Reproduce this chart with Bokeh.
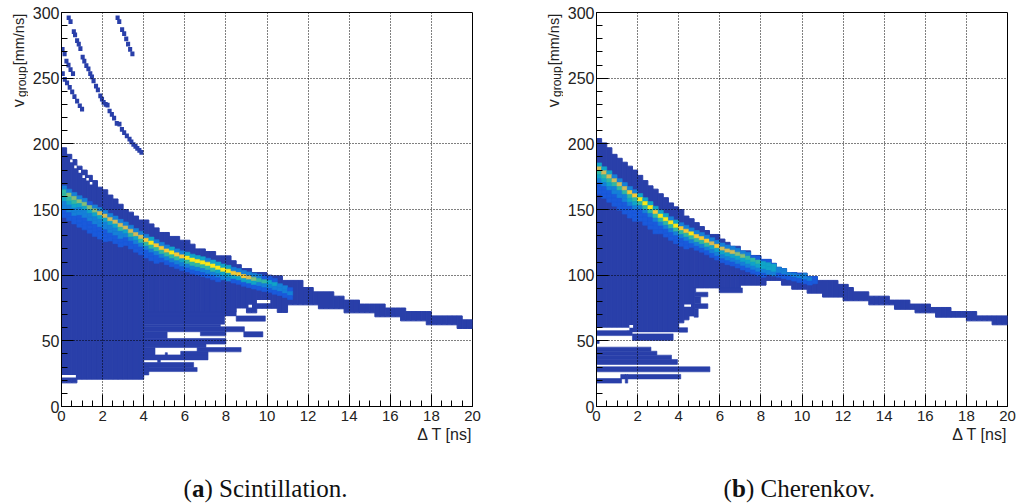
from bokeh.embed import file_html
from bokeh.resources import INLINE
from bokeh.layouts import row, column
from bokeh.models import Label, Range1d, FixedTicker, Title
from bokeh.plotting import figure
import math

# ---------- shared tick values ----------
x_majors = [0, 2, 4, 6, 8, 10, 12, 14, 16, 18, 20]
x_minors = [i * 0.5 for i in range(41) if i % 4]
y_majors = [0, 50, 100, 150, 200, 250, 300]
y_minors = [v for v in range(0, 301, 10) if v % 50]
column_width_ns = 0.25
row_height = 3.0
level_colors = ["#293fa9", "#1a5adb", "#1580d8", "#10a4c8", "#30b7a2",
                "#85be78", "#d0bb58", "#f5c935", "#f9e818"]
grey_low = "#293fa9"

# ---------- panel a: Scintillation ----------
a_top = [197, 192, 188, 183, 180, 176, 172, 167, 165, 161, 158, 154, 150, 148, 145, 142,
         142, 139, 136, 132.5, 132.5, 129.5, 129.5, 126.6, 126.6, 123.6, 120, 120, 118, 118, 114.7, 114.7,
         114.7, 111, 108, 105, 105, 102, 102, 102, 100, 99.5, 99.5, 96, 96, 96, 96, 90.6,
         90.6, 87.3, 87.3, 87.3, 87.3, 84, 84, 81, 81, 81, 78, 78, 78, 78, 78, 75,
         75, 75, 75, 72.3, 72.3, 72.3, 72.3, 72.3, 69, 69, 69, 69, 69, 69, 66, 66]
a_bottom = [18, 18, 18, 20.8, 20.8, 20.8, 20.8, 20.8, 20.8, 20.8, 20.8, 20.8, 20.8, 20.8, 20.8, 20.8,
            72, 72, 72, 72, 72, 72, 72, 72, 72, 72, 72, 72, 72, 72, 72, 72,
            72, 72, 75, 75, 71.3, 71.3, 74.8, 74.8, 74.8, 74.8, 71.6, 71.6, 77.4, 77.4, 77.4, 77.4,
            77.4, 77.4, 74.4, 74.4, 74.4, 74.4, 74.4, 71.3, 71.3, 71.3, 71.3, 71.3, 71.3, 68.3, 68.3, 68.3,
            68.3, 68.3, 65.2, 65.2, 65.2, 65.2, 65.2, 62.2, 62.2, 62.2, 62.2, 62.2, 62.2, 59.4, 59.4, 59.4]
a_isl_x0 = [4, 4, 4, 4.68, 4, 4, 5.8, 5.05, 6.6, 4, 4, 4, 6.76, 8.87, 4, 4, 4, 8.5, 4, 4]
a_isl_x1 = [4.25, 6.6, 6.43, 4.81, 7.13, 4.55, 7.13, 5.15, 8.74, 7.03, 8, 5.14, 8, 9.8, 8.9, 7.73, 7.94, 9.92, 8.5, 4.25]
a_isl_v0 = [24, 26.6, 29.7, 33.5, 35.5, 39.3, 39.3, 39.3, 41.6, 44.9, 47.5, 51.8, 53.8, 53, 56.9, 60.7, 62.7, 65, 69, 26.6]
a_isl_v1 = [26.6, 29.7, 33.5, 35.5, 39.3, 44.9, 42, 41, 44.9, 47.5, 51.8, 56.9, 56.9, 56.9, 60.7, 62.7, 69, 69, 72, 29.7]
a_hole_x0 = [0, 9.51, 9.1, 0.42, 0.62, 0.83, 1.02, 1.21, 1.38]
a_hole_x1 = [0.7, 10.16, 9.27, 0.54, 0.74, 0.95, 1.14, 1.33, 1.5]
a_hole_v0 = [22, 78.7, 75.4, 186, 181.5, 178, 174, 172, 169]
a_hole_v1 = [24, 81, 77.4, 188, 183.5, 180, 176, 174, 171]
a_strip_x = [2.73, 2.81, 2.95, 3.05, 3.15, 3.24, 3.34, 3.45,
             0.35, 0.44, 0.6, 0.66, 0.76, 0.84, 0.92, 1.03, 1.11, 1.21, 1.31, 1.4, 1.48, 1.56, 1.68, 1.77, 1.89,
             1.97, 2.05, 2.15, 2.24, 2.34, 2.45, 2.56, 2.69, 2.82, 2.94, 3.05, 3.18, 3.31, 3.4, 3.5, 3.6, 3.69, 3.79, 3.89,
             0.05, 0.15, 0.24, 0.34, 0.44, 0.56,
             0.06, 0.16, 0.27, 0.4, 0.52, 0.63, 0.76, 0.89, 1.0]
a_strip_v = [296, 293, 287, 284, 280, 276, 272, 268.5,
             296, 293, 285.5, 283, 278.5, 276, 272.5, 266, 263, 259.5, 257, 253.5, 251, 248, 244, 241, 236.5,
             234, 231.5, 230, 229.5, 225, 222.5, 219.5, 215.5, 215, 211, 208.5, 206, 203.5, 201.5, 199.5, 198, 196.5, 195, 193.5,
             272, 268.5, 263, 260, 256.5, 253.5,
             253.5, 249, 246.5, 243, 239.5, 236, 232.5, 229, 226.5]
a_ridge = [163.5, 161, 158.5, 156, 154, 151.5, 149, 147, 145, 142.5, 140.5, 138, 136, 133.5, 131, 129,
           126.6, 124.5, 122.5, 120.5, 118.5, 117, 115.5, 114, 113, 111.5, 110.5, 109.5, 108.4, 107, 105.5, 104,
           103, 101.5, 100.5, 99, 98, 97, 96, 95, 94.4, 93, 92, 90.5, 89]
a_levels = ["024432211", "025432211", "025432211", "025322111", "025322111", "015322111",
            "025322111", "026322111", "026322111", "02632211", "02632211", "02642211",
            "0263211", "0264211", "0263211", "0264211", "0274211", "0384211", "0274211",
            "027421", "027421", "038421", "027421", "027321", "038421", "038421", "038421",
            "038421", "028421", "038421", "038321", "03832", "03832", "02731", "02731",
            "02731", "02631", "02531", "02421", "01421", "01321", "01321", "00221",
            "00221", "00121"]

# ---------- panel b: Cherenkov ----------
b_top = [204, 200.7, 197, 192, 189, 186, 183, 180, 176, 172, 168, 165.5, 162, 159, 155, 152,
         150, 145, 143, 140, 137, 134, 131, 131, 127.5, 125, 122, 122, 118.5, 118.5, 115, 115,
         112, 112, 109, 106, 105, 102, 102, 101.5, 101.5, 99, 99, 96, 96, 96, 96, 93,
         93, 90.6, 87.3, 87.3, 87.3, 84, 84, 84, 84, 81, 81, 81, 81, 78, 78, 78,
         78, 75.4, 75.4, 75.4, 75.4, 72.3, 72.3, 72.3, 72.3, 72.3, 69, 69, 69, 69, 69, 69]
b_bottom = [60, 60, 60, 60, 60, 60, 56.6, 56.6, 56.6, 56.6, 56.6, 56.6, 56.6, 56.6, 56.6, 56.6,
            63.7, 66, 69, 90.3, 90.3, 90.3, 90.3, 90.3, 90.3, 90.3, 90.3, 90.3, 92.4, 92.4, 92.4, 92.4,
            92.4, 96, 96, 96, 92.4, 92.4, 89.3, 89.3, 89.3, 86.3, 86.3, 86.3, 83.3, 83.3, 83.3, 83.3,
            80.5, 80.5, 80.5, 80.5, 80.5, 77.4, 77.4, 77.4, 77.4, 77.4, 74, 74, 74, 74, 71.3, 71.3,
            71.3, 71.3, 68, 68, 68, 68, 68, 68, 65.2, 65.2, 65.2, 65.2, 65.2, 62.2, 62.2, 62.2]
b_isl_x0 = [4, 4.75, 4.75, 4.75, 4.75, 4.75, 5.97, 1.75, 0, 0, 0, 0, 0, 0, 0, 1.5, 1.18, 1.4, 0]
b_isl_x1 = [4.43, 4.95, 5.42, 5.07, 5.42, 4.83, 7.1, 3.73, 1.75, 0.13, 2.65, 2.94, 3.65, 3.94, 5.52, 4.1, 1.43, 1.52, 1.22]
b_isl_v0 = [56.6, 68, 74.6, 78.2, 83.5, 87, 86.6, 50.3, 54, 48, 42.1, 39.1, 35.8, 32, 26.4, 21, 21, 17.8, 17.8]
b_isl_v1 = [60, 74.6, 78.2, 83.5, 87, 90.3, 90.3, 55.5, 58, 50.3, 45.2, 42.1, 39.1, 35.8, 30.2, 24.4, 24.4, 24.4, 21.3]
b_hole_x0 = [4.27, 0, 1.6, 1.75]
b_hole_x1 = [4.6, 1.6, 1.78, 4.0]
b_hole_v0 = [75.9, 58, 60, 55.5]
b_hole_v1 = [77.7, 60, 62, 56.6]
b_ridge = [181, 178, 175, 172, 169, 166, 163, 160.5, 157.6, 154.5, 151.5, 148, 145, 142.5, 140, 137.5,
           135.5, 133.5, 131.5, 129.5, 128, 126, 124, 122, 120, 118.5, 117.5, 116, 114.5, 113, 111.5, 110,
           109, 108, 107, 106, 105, 104, 103, 102, 101, 100, 98]
b_levels = ["036432111", "036432111", "036432111", "026422111", "026422111", "026422111",
            "027432111", "027432111", "03842111", "03842111", "03842111", "03742111",
            "0384211", "0384211", "0284211", "0384211", "0274211", "0274211", "028421",
            "027421", "027421", "027421", "026321", "027321", "026321", "026321", "026321",
            "025321", "025321", "024321", "014321", "014321", "013321", "01332", "01332", "01221",
            "01221", "01221", "01121", "01121", "01221", "01121", "00110"]


def panel(width, border_right, top, bottom, isl, holes, ridge, levels, strip):
    p = figure(width=width, height=451, output_backend="svg", toolbar_location=None,
               x_range=Range1d(0, 20), y_range=Range1d(0, 300),
               min_border_left=33, min_border_right=border_right,
               min_border_top=12, min_border_bottom=45, frame_width=411, frame_height=394,
               outline_line_color="black", outline_line_width=1, background_fill_color="white")
    left = [i * column_width_ns for i in range(len(top))]
    right = [v + column_width_ns for v in left]
    p.quad(left=left, right=right, top=top, bottom=bottom, fill_color=grey_low,
           line_color=grey_low, line_width=1)
    p.quad(left=isl[0], right=isl[1], bottom=isl[2], top=isl[3], fill_color=grey_low,
           line_color=grey_low, line_width=0.6)
    p.quad(left=holes[0], right=holes[1], bottom=holes[2], top=holes[3], fill_color="white", line_color=None)
    if strip:
        p.rect(x=strip[0], y=strip[1], width=0.2, height=3.6, fill_color=grey_low, line_color=None)
    cl, cr, ct, cb, cc = [], [], [], [], []
    for i, (centre, digits) in enumerate(zip(ridge, levels)):
        for j, d in enumerate(digits):
            upper = centre + (2.5 - j) * row_height
            lower = upper - row_height
            if d == "0" or lower >= top[i]:
                continue
            cl.append(i * column_width_ns)
            cr.append((i + 1) * column_width_ns)
            ct.append(min(upper, top[i]))
            cb.append(lower)
            cc.append(level_colors[int(d)])
    p.quad(left=cl, right=cr, top=ct, bottom=cb, fill_color=cc, line_color=cc, line_width=0.6)

    for ax, majors, minors in ((p.xaxis[0], x_majors, x_minors), (p.yaxis[0], y_majors, y_minors)):
        ax.ticker = FixedTicker(ticks=majors, minor_ticks=minors)
        ax.major_tick_in = 12
        ax.major_tick_out = 0
        ax.minor_tick_in = 6
        ax.minor_tick_out = 0
        ax.major_tick_line_color = "black"
        ax.minor_tick_line_color = "black"
        ax.axis_line_color = "black"
        ax.major_label_text_font = "Liberation Sans"
        ax.major_label_text_color = "#222222"
    xa = p.xaxis[0]
    xa.major_label_text_font_size = "15px"
    p.yaxis[0].major_label_text_font_size = "16px"
    xa.major_label_standoff = 4
    p.yaxis[0].major_label_standoff = 2
    p.add_layout(Title(text="\u0394 T [ns]", align="right", text_font="Liberation Sans",
                       text_font_size="16px", text_font_style="normal", text_color="#222222",
                       standoff=0, offset=0), "below")
    for g in (p.xgrid[0], p.ygrid[0]):
        g.grid_line_color = "black"
        g.grid_line_dash = "1 2"
        g.grid_line_width = 1
        g.level = "overlay"
    p.xgrid[0].ticker = FixedTicker(ticks=x_majors)
    p.ygrid[0].ticker = FixedTicker(ticks=y_majors)
    return p


def y_title():
    s = figure(width=28, height=451, output_backend="svg", toolbar_location=None,
               x_range=Range1d(0, 28), y_range=Range1d(0, 300), x_axis_type=None, y_axis_type=None,
               min_border_left=0, min_border_right=0, min_border_top=12, min_border_bottom=45,
               frame_width=28, frame_height=394, outline_line_color=None)
    s.grid.visible = False
    common = dict(angle=math.pi / 2, text_align="right", text_baseline="alphabetic",
                  text_font="Liberation Sans", text_color="#222222")
    s.add_layout(Label(x=18, y=299, text="[mm/ns]", text_font_size="14.5px", **common))
    s.add_layout(Label(x=21, y=259, text="group", text_font_size="12px", **common))
    s.add_layout(Label(x=18, y=234, text="v", text_font_size="16px", **common))
    return s


p1 = panel(507, 63, a_top, a_bottom,
           (a_isl_x0, a_isl_x1, a_isl_v0, a_isl_v1), (a_hole_x0, a_hole_x1, a_hole_v0, a_hole_v1),
           a_ridge, a_levels, (a_strip_x, a_strip_v))
p2 = panel(454, 10, b_top, b_bottom,
           (b_isl_x0, b_isl_x1, b_isl_v0, b_isl_v1), (b_hole_x0, b_hole_x1, b_hole_v0, b_hole_v1),
           b_ridge, b_levels, None)

# caption strip
caption_parts = [("(", "normal", 183), ("a", "bold", 191.5), (") Scintillation.", "normal", 204),
                 ("(", "normal", 723), ("b", "bold", 731.5), (") Cherenkov.", "normal", 745.5)]
cap = figure(width=1017, height=52, output_backend="svg", toolbar_location=None,
             x_range=Range1d(0, 1017), y_range=Range1d(0, 52), x_axis_type=None, y_axis_type=None,
             min_border_left=0, min_border_right=0, min_border_top=0, min_border_bottom=0,
             outline_line_color=None)
cap.grid.visible = False
for txt, style, xpos in caption_parts:
    cap.add_layout(Label(x=xpos, y=15.5, text=txt, text_font_style=style, text_font="Liberation Serif",
                         text_font_size="25px", text_color="#111111", text_baseline="alphabetic"))

page = column(row(y_title(), p1, y_title(), p2), cap)
open("out.html", "w").write(file_html(page, INLINE))
